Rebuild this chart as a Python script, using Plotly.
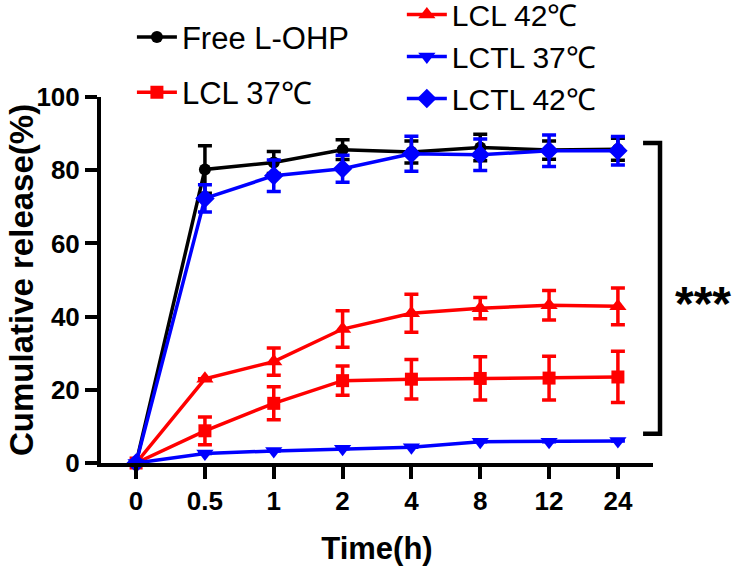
import plotly.graph_objects as go

time_labels = ["0", "0.5", "1", "2", "4", "8", "12", "24"]
x_pos = list(range(len(time_labels)))

free_lohp = [0, 80.2, 82.1, 85.6, 85.0, 86.2, 85.5, 85.7]
free_lohp_sd = [0, 6.5, 3.0, 2.7, 3.0, 3.6, 2.5, 3.0]
lcl_37 = [0, 8.8, 16.3, 22.5, 22.9, 23.1, 23.2, 23.5]
lcl_37_sd = [0, 3.8, 4.5, 4.0, 5.4, 5.9, 6.0, 7.0]
lcl_42 = [0, 23.0, 27.7, 36.6, 40.9, 42.3, 43.1, 42.8]
lcl_42_sd = [0, 0, 3.7, 5.0, 5.2, 2.9, 4.0, 5.0]
lctl_37 = [0, 2.6, 3.3, 3.9, 4.3, 5.8, 5.8, 6.0]
lctl_37_sd = [0, 0, 0, 0, 0, 0, 0, 0]
lctl_42 = [0, 72.3, 78.5, 80.4, 84.5, 84.2, 85.3, 85.3]
lctl_42_sd = [0, 3.7, 4.3, 3.7, 4.8, 4.3, 4.3, 3.9]

y_ticks = [0, 20, 40, 60, 80, 100]

series = [
    ("Free L-OHP", free_lohp, free_lohp_sd, "#000000", "circle", 12, "legend"),
    ("LCL 37℃", lcl_37, lcl_37_sd, "#FF0000", "square", 13, "legend"),
    ("LCL 42℃", lcl_42, lcl_42_sd, "#FF0000", "triangle-up", 15, "legend2"),
    ("LCTL 37℃", lctl_37, lctl_37_sd, "#0000FF", "triangle-down", 15, "legend2"),
    ("LCTL 42℃", lctl_42, lctl_42_sd, "#0000FF", "diamond", 15, "legend2"),
]

FONT = "Arial, Liberation Sans, sans-serif"

fig = go.Figure()
for name, vals, sd, color, sym, size, leg in series:
    fig.add_trace(go.Scatter(
        x=x_pos, y=vals, name=name, mode="lines+markers",
        line=dict(color=color, width=3.5),
        marker=dict(symbol=sym, size=size, color=color, line=dict(width=0)),
        error_y=dict(type="data", array=sd, visible=True, color=color,
                     thickness=3.5, width=7),
        cliponaxis=False, legend=leg, legendgroup=name,
    ))

fig.update_layout(
    width=735, height=566,
    margin=dict(l=101, r=82, t=97, b=102.5, autoexpand=False),
    paper_bgcolor="white", plot_bgcolor="white",
    font=dict(family=FONT, color="black"),
    showlegend=True,
    legend=dict(x=0.056, y=1.237, xanchor="left", yanchor="top",
                font=dict(size=31, family=FONT), bgcolor="rgba(0,0,0,0)",
                tracegroupgap=12, traceorder="grouped", itemwidth=40),
    legend2=dict(x=0.545, y=1.2965, xanchor="left", yanchor="top",
                 font=dict(size=30, family=FONT), bgcolor="rgba(0,0,0,0)",
                 tracegroupgap=0, traceorder="grouped", itemwidth=40),
    xaxis=dict(
        range=[-0.51, 7.51], tickvals=x_pos, ticktext=time_labels,
        showline=True, linecolor="black", linewidth=4,
        ticks="outside", ticklen=12, tickwidth=3.5, tickcolor="black",
        showgrid=False, zeroline=False,
        tickfont=dict(size=26, family=FONT, weight="bold"),
        title=dict(text="Time(h)", font=dict(size=31, family=FONT, weight="bold"),
                   standoff=33),
    ),
    yaxis=dict(
        range=[0, 100], tickvals=y_ticks,
        showline=True, linecolor="black", linewidth=4,
        ticks="outside", ticklen=12, tickwidth=3.5, tickcolor="black",
        showgrid=False, zeroline=False,
        tickfont=dict(size=26, family=FONT, weight="bold"),
    ),
    shapes=[dict(type="path", xref="paper", yref="y",
                 path="M 0.982 87.4 L 1.0127 87.4 L 1.0127 8.0 L 0.982 8.0",
                 line=dict(color="black", width=4.5))],
    annotations=[
        dict(text="***", xref="paper", yref="y", x=1.0127, y=45.1,
             xanchor="left", yanchor="middle", xshift=13, yshift=-6, showarrow=False,
             font=dict(size=48, family=FONT, weight="bold", color="black")),
        dict(text="Cumulative release(%)", xref="paper", yref="paper",
             x=-0.1449, y=0.5, xanchor="center", yanchor="middle", textangle=-90,
             showarrow=False,
             font=dict(size=33, family=FONT, weight="bold", color="black")),
    ],
)

fig.write_html("out.html", config={"displayModeBar": False},
               post_script="document.body.style.margin='0px';")
